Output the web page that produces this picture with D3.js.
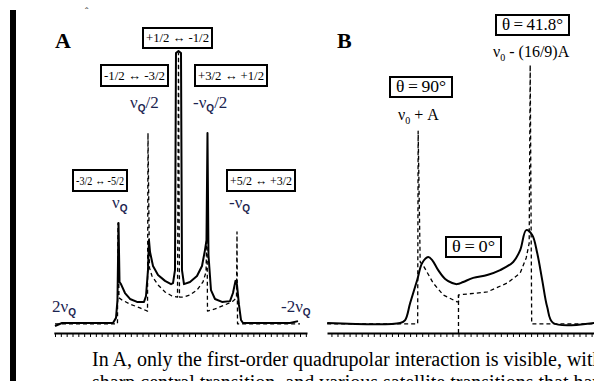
<!DOCTYPE html>
<html>
<head>
<meta charset="utf-8">
<script src="https://cdn.jsdelivr.net/npm/d3@7"></script>
<style>
  html, body { margin: 0; padding: 0; background: #fff; overflow: hidden; }
  svg { display: block; }
</style>
</head>
<body>
<svg id="fig" width="594" height="381"></svg>
<script>
// ---- Panel A: first-order quadrupolar powder pattern (frequency in units of nuQ, intensity 0-100)
const solidA = [
  [2.100,-1.1],[1.980,0],[1.106,0],[1.054,1.9],[1.029,8.5],[1.011,37.0],[0.994,15.2],
  [0.969,14.4],[0.900,11.1],[0.814,8.9],[0.694,7.8],[0.574,7.8],[0.540,10.0],[0.506,19.6],
  [0.489,30.7],[0.471,26.3],[0.420,21.1],[0.334,17.8],[0.214,15.6],[0.111,14.4],[0.077,14.8],
  [0.043,19.6],[0.026,100],[-0.017,100.7],[-0.060,100],[-0.077,19.6],[-0.111,14.4],
  [-0.214,15.2],[-0.334,17.4],[-0.420,21.1],[-0.471,27.0],[-0.497,30.7],[-0.514,70.4],
  [-0.531,25.2],[-0.574,12.2],[-0.643,8.9],[-0.763,7.8],[-0.900,8.1],[-0.951,11.1],
  [-0.994,15.6],[-1.020,14.1],[-1.054,6.7],[-1.089,1.1],[-1.123,0],[-1.929,0],[-2.066,0.7]
];
const dashedA = [
  [2.100,-0.3],[1.029,-0.3],[1.020,37.0],[1.003,9.3],[0.951,8.5],[0.814,7.0],[0.643,5.6],
  [0.514,4.4],[0.506,70.4],[0.480,20.4],[0.437,17.4],[0.334,14.1],[0.214,11.5],[0.094,10.0],
  [0.000,9.6],[-0.017,100],[-0.034,9.6],[-0.111,9.6],[-0.214,10.4],[-0.334,12.2],
  [-0.437,15.2],[-0.489,18.9],[-0.506,38.1],[-0.514,4.4],[-0.643,5.2],[-0.814,6.7],
  [-0.951,8.1],[-1.011,9.3],[-1.020,33.7],[-1.029,-0.3],[-2.100,-0.3]
];
const freqDomainA = [2.1, -2.1];
const axisSpanA = [2.12, -2.22];
const tickStepA = 0.1;

// ---- Panel B: second-order central transition (frequency offset from nu0 in units of A)
const solidB = [
  [3.256,0],[1.446,0],[1.322,1.1],[1.198,7.4],[1.024,15.9],[0.900,22.2],[0.751,24.4],
  [0.652,23.3],[0.503,19.6],[0.330,16.3],[0.156,14.8],[0.032,14.4],[-0.117,15.2],
  [-0.365,16.7],[-0.712,17.8],[-1.034,19.6],[-1.357,22.6],[-1.530,27.0],[-1.679,34.4],
  [-1.828,32.6],[-1.952,25.9],[-2.076,15.9],[-2.200,5.9],[-2.349,0],[-3.366,0]
];
const dashedB = [
  [3.256,-0.3],[1.012,-0.3],[1.000,71.1],[0.950,22.6],[0.851,20.7],[0.628,14.8],
  [0.379,10.4],[0.032,7.8],[0.000,7.8],[0.000,10.4],[-0.712,11.5],[-1.208,14.8],
  [-1.530,18.5],[-1.679,24.1],[-1.753,29.6],[-1.778,95.6],[-1.815,-0.3],[-3.366,-0.3]
];
const thetaZeroLine = [[0, -3.7], [0, 10.4]];
const freqDomainB = [3.26, -3.36];
const axisSpanB = [3.26, -3.36];
const tickStepB = 0.15;

// ---- Annotations
const transitionBoxes = [
  { text: "+1/2 \u2194 -1/2", x: 143, y: 28, w: 69, h: 20 },
  { text: "-1/2 \u2194 -3/2", x: 101, y: 65, w: 67, h: 21 },
  { text: "+3/2 \u2194 +1/2", x: 195, y: 65, w: 72, h: 21 },
  { text: "-3/2 \u2194 -5/2", x: 73,  y: 170, w: 54, h: 21 },
  { text: "+5/2 \u2194 +3/2", x: 227, y: 170, w: 68, h: 21 }
];
const nuQLabels = [
  { pre: "\u03bd", sub: "Q", post: "/2", x: 130, y: 108 },
  { pre: "-\u03bd", sub: "Q", post: "/2", x: 193, y: 108 },
  { pre: "\u03bd", sub: "Q", post: "", x: 112, y: 208 },
  { pre: "-\u03bd", sub: "Q", post: "", x: 229, y: 208 },
  { pre: "2\u03bd", sub: "Q", post: "", x: 52, y: 312 },
  { pre: "-2\u03bd", sub: "Q", post: "", x: 281, y: 312 }
];
const thetaBoxes = [
  { text: "\u03b8\u2009=\u200941.8\u00b0", x: 496, y: 15, w: 73, h: 20 },
  { text: "\u03b8\u2009=\u200990\u00b0", x: 390, y: 77, w: 62, h: 20 },
  { text: "\u03b8\u2009=\u20090\u00b0", x: 446, y: 237, w: 55, h: 20 }
];
const nu0Labels = [
  { pre: "\u03bd", sub: "0", post: " - (16/9)A", x: 493, y: 57 },
  { pre: "\u03bd", sub: "0", post: " + A", x: 398, y: 120 }
];
const captionLines = [
  "In A, only the first-order quadrupolar interaction is visible, with a",
  "sharp central transition, and various satellite transitions that have"
];

const svg = d3.select("#fig");
const SERIF = '"Liberation Serif", "Times New Roman", serif';
const SANS = '"Liberation Sans", Arial, sans-serif';

const y = d3.scaleLinear().domain([0, 100]).range([323, 53]);
const xA = d3.scaleLinear().domain(freqDomainA).range([55, 300]);
const xB = d3.scaleLinear().domain(freqDomainB).range([327, 594]);

// page margin rule
svg.append("rect").attr("x", 10).attr("y", 10).attr("width", 6).attr("height", 371).attr("fill", "#000");
svg.append("text").attr("x", 85).attr("y", 15).attr("font-family", SERIF).attr("font-size", 10).text("\u02c6");

function drawAxis(xs, span, step) {
  const s = xs.copy().domain(span).range(span.map(xs));
  const lo = Math.min(span[0], span[1]), hi = Math.max(span[0], span[1]);
  const vals = d3.range(Math.ceil(lo / step) * step, hi + 1e-9, step);
  const g = svg.append("g").attr("transform", "translate(0,333)")
    .call(d3.axisBottom(s).tickValues(vals).tickSize(4).tickSizeOuter(0).tickFormat(""));
  g.select(".domain").attr("stroke", "#000").attr("stroke-width", 2);
  g.selectAll(".tick line").attr("stroke", "#000").attr("stroke-width", 1);
}
drawAxis(xA, axisSpanA, tickStepA);
drawAxis(xB, axisSpanB, tickStepB);

function drawCurve(data, xs, dashed, curve) {
  const line = d3.line().x(d => xs(d[0])).y(d => y(d[1])).curve(curve || d3.curveLinear);
  svg.append("path").datum(data).attr("d", line)
    .attr("fill", "none").attr("stroke", "#000")
    .attr("stroke-width", dashed ? 1.3 : 2)
    .attr("stroke-linejoin", "round")
    .attr("stroke-dasharray", dashed ? "4,3" : null);
}
drawCurve(dashedA, xA, true);
drawCurve(solidA, xA, false);
drawCurve(dashedB, xB, true);
drawCurve(thetaZeroLine, xB, true);
drawCurve(solidB, xB, false, d3.curveCatmullRom.alpha(0.5));

// panel letters
[["A", 55], ["B", 337]].forEach(([t, x]) => {
  svg.append("text").attr("x", x).attr("y", 48).attr("font-family", SERIF)
    .attr("font-weight", "bold").attr("font-size", 22).text(t);
});

function boxedText(b, size, pad) {
  svg.append("rect").attr("x", b.x).attr("y", b.y).attr("width", b.w).attr("height", b.h)
    .attr("fill", "#fff").attr("stroke", "#000").attr("stroke-width", 2);
  svg.append("text").attr("x", b.x + b.w / 2).attr("y", b.y + b.h / 2 + size * 0.34)
    .attr("text-anchor", "middle").attr("font-family", SERIF).attr("font-size", size)
    .attr("textLength", b.w - pad).attr("lengthAdjust", "spacingAndGlyphs")
    .text(b.text);
}
transitionBoxes.forEach(b => boxedText(b, 13, 6));
thetaBoxes.forEach(b => boxedText(b, 16, 12));

function subLabel(l, color, subFont, subSize, subBold, size) {
  const t = svg.append("text").attr("x", l.x).attr("y", l.y).attr("font-family", SERIF)
    .attr("font-size", size).attr("fill", color);
  t.append("tspan").text(l.pre);
  t.append("tspan").attr("dy", 4).attr("font-size", subSize).attr("font-family", subFont)
    .attr("font-weight", subBold ? "bold" : "normal").text(l.sub);
  if (l.post) t.append("tspan").attr("dy", -4).text(l.post);
}
nuQLabels.forEach(l => subLabel(l, "#1b2450", SANS, 10, true, 17));
nu0Labels.forEach(l => subLabel(l, "#000", SERIF, 10, false, 16));

captionLines.forEach((s, i) => {
  svg.append("text").attr("x", 92).attr("y", 366 + i * 23).attr("font-family", SERIF)
    .attr("font-size", 20).attr("fill", "#000").text(s);
});
</script>
</body>
</html>
